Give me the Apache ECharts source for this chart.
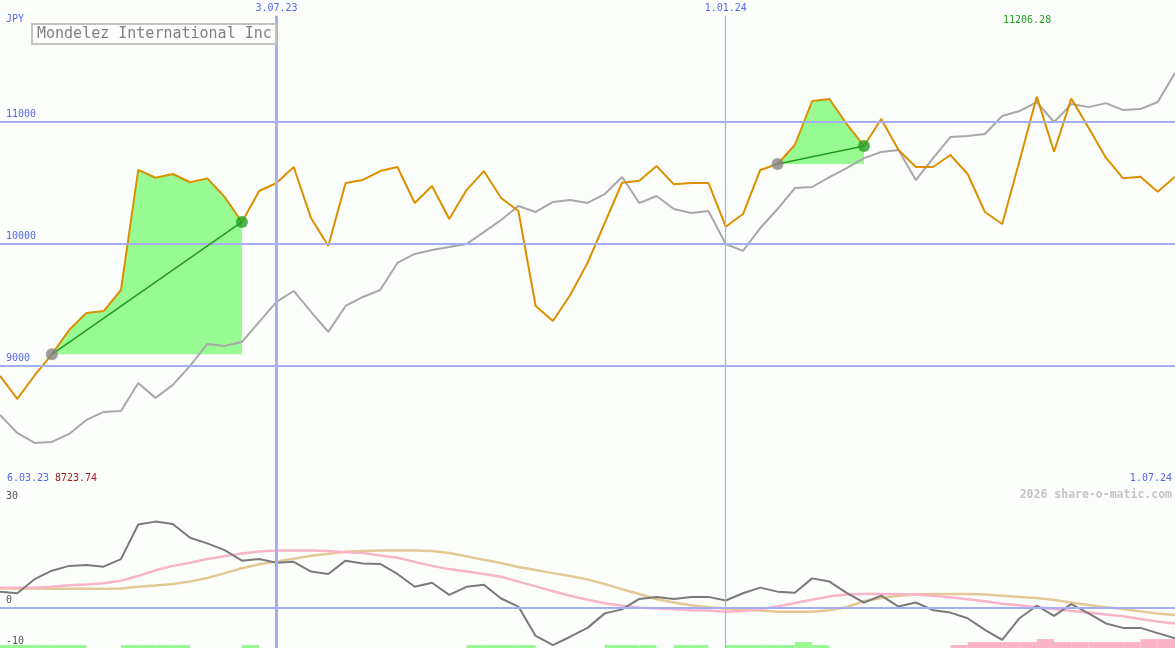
<!DOCTYPE html>
<html><head><meta charset="utf-8">
<script src="https://cdn.jsdelivr.net/npm/echarts@6/dist/echarts.min.js"></script>
<style>html,body{margin:0;padding:0;background:#fcfefc}#c{width:1175px;height:650px}</style>
</head><body><div id="c"></div><script>
// weekly dates
const dates = ['13.03.23','20.03.23','27.03.23','3.04.23','10.04.23','17.04.23','24.04.23','1.05.23','8.05.23','15.05.23',
'22.05.23','29.05.23','5.06.23','12.06.23','19.06.23','26.06.23','3.07.23','10.07.23','17.07.23','24.07.23',
'31.07.23','7.08.23','14.08.23','21.08.23','28.08.23','4.09.23','11.09.23','18.09.23','25.09.23','2.10.23',
'9.10.23','16.10.23','23.10.23','30.10.23','6.11.23','13.11.23','20.11.23','27.11.23','4.12.23','11.12.23',
'18.12.23','25.12.23','1.01.24','8.01.24','15.01.24','22.01.24','29.01.24','5.02.24','12.02.24','19.02.24',
'26.02.24','4.03.24','11.03.24','18.03.24','25.03.24','1.04.24','8.04.24','15.04.24','22.04.24','29.04.24',
'6.05.24','13.05.24','20.05.24','27.05.24','3.06.24','10.06.24','17.06.24','24.06.24','1.07.24'];
// price (JPY)
const price = [8912,8724,8916,9090,9289,9429,9445,9618,10604,10540,
10571,10503,10535,10382,10177,10431,10497,10628,10209,9979,
10497,10522,10595,10628,10333,10472,10201,10439,10595,10374,
10267,9487,9363,9577,9840,10170,10499,10516,10636,10486,
10497,10497,10138,10242,10604,10653,10809,11170,11187,10980,
10801,11023,10768,10628,10628,10727,10571,10259,10160,10678,
11206,10754,11190,10951,10705,10535,10549,10425,10549];
// moving average (gray)
const avg = [8592,8444,8362,8370,8436,8551,8617,8625,8855,8732,
8839,8995,9175,9159,9191,9356,9520,9610,9438,9274,
9487,9561,9618,9840,9914,9947,9971,9996,10094,10193,
10308,10259,10341,10357,10333,10406,10546,10333,10390,10283,
10250,10267,9996,9939,10127,10283,10455,10464,10546,10619,
10701,10751,10767,10521,10701,10874,10882,10899,11047,11088,
11162,10998,11145,11120,11153,11096,11104,11162,11400];
// lower panel oscillator lines
const osc = [4.0,3.6,7.1,9.2,10.4,10.6,10.2,12.1,20.7,21.4,
20.8,17.4,16.0,14.3,11.7,12.1,11.2,11.4,9.0,8.4,
11.7,11.0,10.9,8.4,5.2,6.2,3.2,5.2,5.7,2.3,
0.3,-7.0,-9.3,-7.2,-5.0,-1.4,-0.4,2.2,2.7,2.2,
2.7,2.7,1.8,3.6,5.0,4.0,3.7,7.3,6.5,3.7,
1.3,3.0,0.3,1.3,-0.6,-1.2,-2.6,-5.5,-8.0,-2.6,
0.5,-2.0,0.9,-1.4,-3.9,-5.0,-5.0,-6.3,-7.6];
const oscFast = [5.0,5.0,5.0,5.2,5.6,5.8,6.1,6.7,7.9,9.3,
10.4,11.2,12.1,12.8,13.5,14.0,14.2,14.2,14.2,14.1,
13.8,13.6,13.0,12.4,11.4,10.4,9.6,9.0,8.4,7.7,
6.5,5.3,4.1,3.0,2.0,1.1,0.5,0.0,-0.2,-0.4,
-0.6,-0.7,-1.0,-0.8,-0.3,0.3,1.2,2.0,2.8,3.3,
3.4,3.4,3.4,3.3,3.0,2.6,2.1,1.6,1.0,0.6,
0.1,-0.3,-0.8,-1.2,-1.7,-2.1,-2.8,-3.4,-3.9];
const oscSlow = [4.8,4.8,4.8,4.7,4.7,4.7,4.7,4.8,5.2,5.5,
5.9,6.5,7.4,8.6,9.8,10.8,11.5,12.2,12.9,13.4,
13.9,14.1,14.2,14.2,14.2,14.1,13.6,12.8,11.9,11.1,
10.1,9.4,8.6,7.9,7.0,5.9,4.6,3.4,2.1,1.3,
0.6,0.1,-0.2,-0.5,-0.7,-1.0,-1.0,-1.0,-0.6,0.2,
1.6,2.4,3.0,3.3,3.4,3.4,3.4,3.3,3.0,2.7,
2.4,1.9,1.3,0.7,0.1,-0.3,-0.9,-1.4,-1.8];
// weekly histogram blocks (positive = green, negative = pink), one per week interval
const hist = [1,1,1,1,1,0,0,1,1,1,
1,0,0,0,1,0,0,0,0,0,
0,0,0,0,0,0,0,1,1,1,
1,0,0,0,0,1,1,1,0,1,
1,0,1,1,1,1,2,1,0,0,
0,0,0,0,0,-1,-2,-2,-2,-2,
-3,-2,-2,-2,-2,-2,-3,-3];
// signals: start / end week indices
const signalStart = [3, 45];
const signalEnd = [14, 50];
const priceTicks = [9000, 10000, 11000];
const oscTicks = [0, -10];
const dateTicks = ['3.07.23', '1.01.24'];
const dateTickWidth = [3, 1.2];
const dateLineTop = 11870; // vertical date lines start just below their labels

const FONT = 'DejaVu Sans Mono';
const BLUE = '#5468f0';
const GRIDC = '#a6aef2';
const BG = '#fcfefc';

const series = [];
// main-panel grid lines
series.push({
  type: 'line', xAxisIndex: 0, yAxisIndex: 0, data: [], z: 1, silent: true,
  markLine: {
    silent: true, symbol: ['none', 'none'], label: {show: false}, animation: false,
    data: priceTicks.map(v => ({yAxis: v, lineStyle: {color: GRIDC, width: 2, type: 'solid'}}))
      .concat(dateTicks.map((d, k) => [
        {coord: [d, dateLineTop], lineStyle: {color: GRIDC, width: dateTickWidth[k], type: 'solid'}},
        {coord: [d, 8000]}
      ]))
  }
});
// fill areas
signalStart.forEach((s, n) => {
  const e = signalEnd[n];
  series.push({
    type: 'line', xAxisIndex: 0, yAxisIndex: 0, stack: 'fill' + n, symbol: 'none', z: 2,
    lineStyle: {opacity: 0}, silent: true,
    data: dates.map((d, i) => (i >= s && i <= e) ? price[s] : '-')
  });
  series.push({
    type: 'line', xAxisIndex: 0, yAxisIndex: 0, stack: 'fill' + n, symbol: 'none', z: 2,
    lineStyle: {opacity: 0}, areaStyle: {color: '#98fa92', opacity: 1}, silent: true,
    data: dates.map((d, i) => (i >= s && i <= e) ? price[i] - price[s] : '-')
  });
});
series.push({type: 'line', xAxisIndex: 0, yAxisIndex: 0, data: avg, symbol: 'none', z: 3,
  lineStyle: {color: '#a8a8a8', width: 2}});
series.push({type: 'line', xAxisIndex: 0, yAxisIndex: 0, data: price, symbol: 'none', z: 4,
  lineStyle: {color: '#dc9000', width: 2}});
signalStart.forEach((s, n) => {
  const e = signalEnd[n];
  series.push({type: 'line', xAxisIndex: 0, yAxisIndex: 0, symbol: 'none', z: 5, connectNulls: true,
    lineStyle: {color: '#1f9a1f', width: 1.5},
    data: dates.map((d, i) => (i === s || i === e) ? price[i] : '-')});
});
series.push({type: 'scatter', xAxisIndex: 0, yAxisIndex: 0, z: 6, symbolSize: 12,
  itemStyle: {color: '#858585'}, data: signalStart.map(s => [dates[s], price[s]])});
series.push({type: 'scatter', xAxisIndex: 0, yAxisIndex: 0, z: 6, symbolSize: 12,
  itemStyle: {color: '#22a022'}, data: signalEnd.map(e => [dates[e], price[e]])});

// lower panel
series.push({
  type: 'line', xAxisIndex: 1, yAxisIndex: 1, data: [], z: 1, silent: true,
  markLine: {
    silent: true, symbol: ['none', 'none'], label: {show: false}, animation: false,
    data: [{yAxis: 0, lineStyle: {color: GRIDC, width: 2, type: 'solid'}}]
      .concat(dateTicks.map((d, k) => ({xAxis: d, lineStyle: {color: GRIDC, width: dateTickWidth[k], type: 'solid'}})))
  }
});
series.push({type: 'bar', xAxisIndex: 2, yAxisIndex: 2, barWidth: '100%', z: 2, silent: true,
  data: hist.map(v => ({value: Math.abs(v), itemStyle: {color: v >= 0 ? '#98fa92' : '#fab4c8'}}))});
series.push({type: 'line', xAxisIndex: 1, yAxisIndex: 1, data: oscSlow, symbol: 'none', z: 3,
  lineStyle: {color: '#e2c996', width: 2.5}});
series.push({type: 'line', xAxisIndex: 1, yAxisIndex: 1, data: oscFast, symbol: 'none', z: 3,
  lineStyle: {color: '#fab4c8', width: 2.5}});
series.push({type: 'line', xAxisIndex: 1, yAxisIndex: 1, data: osc, symbol: 'none', z: 4,
  lineStyle: {color: '#7a7a7a', width: 2}});

const option = {
  backgroundColor: BG,
  animation: false,
  title: {
    text: 'Mondelez International Inc', left: 32, top: 24,
    borderWidth: 2, borderColor: '#c6c2c2', padding: [3, 4, 2, 5],
    textStyle: {fontFamily: FONT, fontSize: 15, fontWeight: 'normal', color: '#808080'}
  },
  grid: [
    {left: 0, right: 0, top: 0, height: 487},
    {left: 0, right: 0, top: 487, height: 161}
  ],
  xAxis: [
    {gridIndex: 0, type: 'category', data: dates, boundaryGap: false, position: 'top',
      axisLine: {show: false}, axisTick: {show: false}, splitLine: {show: false},
      axisLabel: {inside: true, margin: 3, color: BLUE, fontFamily: FONT, fontSize: 10,
        interval: (i, v) => dateTicks.indexOf(v) >= 0}},
    {gridIndex: 1, type: 'category', data: dates, boundaryGap: false, position: 'top',
      axisLine: {show: true, lineStyle: {color: '#7484ea', width: 2}}, axisTick: {show: false},
      axisLabel: {show: false}, splitLine: {show: false}},
    {gridIndex: 1, type: 'category', data: dates.slice(0, hist.length), boundaryGap: true, show: false}
  ],
  yAxis: [
    {gridIndex: 0, type: 'value', min: 8000, max: 12000, interval: 1000,
      axisLine: {show: false}, axisTick: {show: false}, splitLine: {show: false},
      axisLabel: {inside: true, margin: 6, color: BLUE, fontFamily: FONT, fontSize: 10,
        verticalAlign: 'bottom', padding: [0, 0, 2, 0],
        formatter: v => priceTicks.indexOf(v) >= 0 ? String(v) : ''}},
    {gridIndex: 1, type: 'value', min: -10, max: 30, interval: 10,
      axisLine: {show: false}, axisTick: {show: false}, splitLine: {show: false},
      axisLabel: {inside: true, margin: 6, color: '#555555', fontFamily: FONT, fontSize: 10,
        verticalAlign: 'bottom', padding: [0, 0, 2, 0],
        formatter: v => oscTicks.indexOf(v) >= 0 ? String(v) : ''}},
    {gridIndex: 1, type: 'value', min: 0, max: 163 / 3, show: false}
  ],
  graphic: [
    {type: 'text', left: 6, top: 14, z: 100, style: {text: 'JPY', font: '10px "' + FONT + '"', fill: BLUE}},
    {type: 'text', left: 1003, top: 15, z: 100, style: {text: '11206.28', font: '10px "' + FONT + '"', fill: '#20a020'}},
    {type: 'text', left: 7, top: 473, z: 100, style: {text: '6.03.23', font: '10px "' + FONT + '"', fill: BLUE}},
    {type: 'text', left: 55, top: 473, z: 100, style: {text: '8723.74', font: '10px "' + FONT + '"', fill: '#a01c1c'}},
    {type: 'text', right: 3, top: 473, z: 100, style: {text: '1.07.24', font: '10px "' + FONT + '"', fill: BLUE}},
    {type: 'text', right: 3, top: 489, z: 100, style: {text: '2026 share-o-matic.com', font: 'bold 11.5px "' + FONT + '"', fill: '#c4c4c4'}},
    {type: 'text', left: 6, top: 491, z: 100, style: {text: '30', font: '10px "' + FONT + '"', fill: '#555555'}}
  ],
  series: series
};
const chart = echarts.init(document.getElementById('c'));
chart.setOption(option);
</script></body></html>
